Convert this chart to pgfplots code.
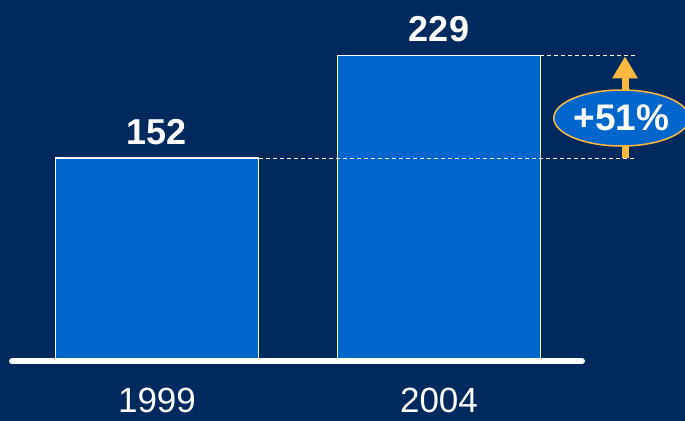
\documentclass[border=0pt]{standalone}
\usepackage{pgfplots}
\pgfplotsset{compat=1.18}
\usetikzlibrary{arrows.meta,shapes.geometric}
\usepackage{fontspec}
\setmainfont{Liberation Sans}
\definecolor{bg}{RGB}{0,41,94}
\definecolor{barc}{RGB}{0,102,204}
\definecolor{orng}{RGB}{255,185,64}
\begin{document}
\begin{tikzpicture}
\begin{axis}[name=ax, at={(0,0)}, anchor=south west,
  scale only axis, width=685bp, height=421bp,
  xmin=-0.5567, xmax=1.8723, ymin=-45.9, ymax=270.9,
  /pgf/number format/assume math mode=true,
  axis background/.style={fill=bg},
  axis line style={draw=none},
  tick style={draw=none},
  ytick=\empty,
  xtick={0,1}, xticklabels={1999,2004},
  xticklabel style={anchor=base, inner sep=0pt, yshift=9bp, text=white, font=\fontsize{35bp}{40bp}\selectfont},
  clip=false,
]
\addplot[ybar, bar width=203bp, fill=barc, draw=white, line width=1.5bp,
  nodes near coords,
  every node near coord/.append style={anchor=base, yshift=14bp, text=white, font=\fontsize{36bp}{40bp}\selectfont\bfseries}]
  coordinates {(0,152) (1,229)};
\draw[white, line width=6bp, line cap=round] (axis cs:-0.514,-1) -- (axis cs:1.507,-1);
\draw[white, line width=0.7bp, dash pattern=on 4bp off 3bp] (axis cs:0.3617,152) -- (axis cs:1.702,152);
\draw[white, line width=0.7bp, dash pattern=on 4bp off 3bp] (axis cs:1.358,229) -- (axis cs:1.702,229);
\draw[orng, line width=7bp, -{Triangle[width=24bp,length=22bp]}] (axis cs:1.6596,152) -- (axis cs:1.6596,228.5);
\node[ellipse, draw=orng, fill=barc, line width=1.5bp, minimum width=126bp, minimum height=56bp, inner sep=0pt, text=white, font=\fontsize{37bp}{40bp}\selectfont\bfseries] at (axis cs:1.647,182.1) {+51\%};
\end{axis}
\pgfresetboundingbox
\path[use as bounding box] (ax.south west) rectangle (ax.north east);
\end{tikzpicture}
\end{document}
